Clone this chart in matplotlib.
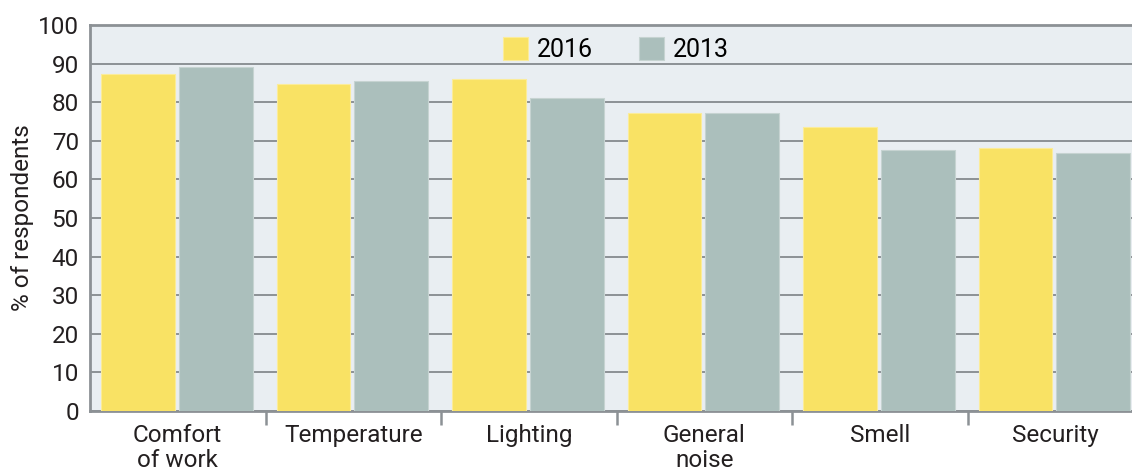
import numpy as np
import matplotlib.pyplot as plt

categories = ["Comfort\nof work", "Temperature", "Lighting", "General\nnoise", "Smell", "Security"]
values_2016 = [87.2, 84.7, 86.0, 77.2, 73.6, 68.2]
values_2013 = [89.2, 85.5, 81.0, 77.2, 67.5, 66.8]

plt.rcParams['font.family'] = ['Roboto', 'DejaVu Sans']

fig = plt.figure(figsize=(11.32, 4.70), dpi=100)
ax = fig.add_axes([0.0795, 0.1255, 0.9205, 0.8215])
ax.set_facecolor('#e9eef2')

x = np.arange(len(categories))
w = 0.42
ax.bar(x - 0.227, values_2016, w, color='#f9e264', edgecolor='#fbec9a', linewidth=0.8,
       label='2016', zorder=3)
ax.bar(x + 0.216, values_2013, w, color='#abbfbc', edgecolor='#c6d3d1', linewidth=0.8,
       label='2013', zorder=3)

ax.set_xlim(-0.5, 5.437)
ax.set_ylim(0, 100)
ax.set_yticks(range(0, 101, 10))
ax.yaxis.grid(True, color='#8c9195', linewidth=1.4, zorder=1)
ax.set_axisbelow(True)

ax.set_xticks(x)
ax.set_xticklabels(categories, fontsize=17.5, color='#231f20', linespacing=1.15)
ax.set_xticks(x[:-1] + 0.5, minor=True)
ax.tick_params(axis='x', which='major', length=0, pad=9)
ax.tick_params(axis='x', which='minor', length=10, width=1.8, color='#8c9195')
ax.tick_params(axis='y', length=0, labelsize=17.5, labelcolor='#231f20', pad=8)

for s in ['left', 'bottom', 'top']:
    ax.spines[s].set_color('#8c9195')
    ax.spines[s].set_linewidth(2)
ax.spines['right'].set_visible(False)

ax.set_ylabel('% of respondents', fontsize=17.5, color='#231f20', labelpad=3)

ax.legend(loc='upper center', bbox_to_anchor=(0.505, 1.0), ncol=2, frameon=False,
          fontsize=18, handlelength=1.0, handleheight=1.0, columnspacing=1.85,
          handletextpad=0.35, borderaxespad=0.1)

fig.savefig('out.png', dpi=100)
